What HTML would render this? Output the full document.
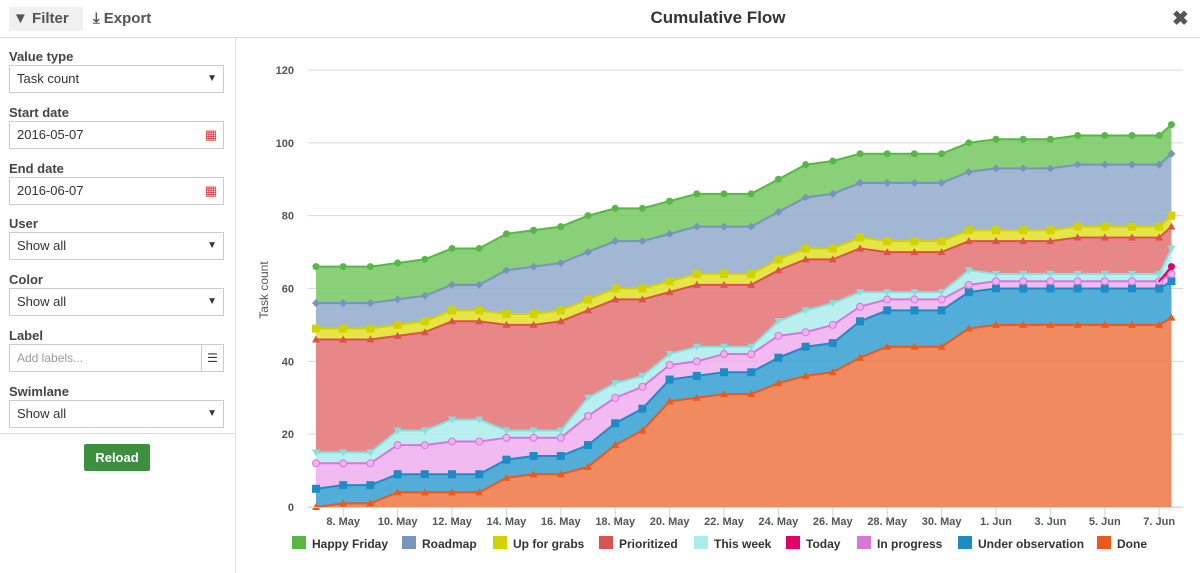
<!DOCTYPE html>
<html><head><meta charset="utf-8">
<style>
body{margin:0;width:1200px;height:573px;overflow:hidden;background:#fff;font-family:"Liberation Sans",sans-serif;color:#333;position:relative}
.top{position:absolute;left:0;top:0;width:1200px;height:37px;border-bottom:1px solid #ddd}
.tb{position:absolute;top:7px;height:24px;line-height:24px;font-size:15px;font-weight:bold;color:#555}
.side{position:absolute;left:0;top:38px;width:235px;height:535px;border-right:1px solid #ddd}
.lbl{position:absolute;left:9px;font-size:13px;font-weight:bold;color:#444}
.inp{position:absolute;left:9px;height:26px;border:1px solid #ccc;font-size:13px;line-height:26px;padding-left:7px;box-sizing:content-box;width:206px}
.arr{position:absolute;right:6px;top:0;font-size:10px}
</style></head><body>
<div class="top">
 <div class="tb" style="left:9px;width:70px;background:#f0f0f0;padding-left:4px"><span style="font-size:15px">&#9660;</span> Filter</div>
 <div class="tb" style="left:93px">&#10515; Export</div>
 <div style="position:absolute;left:0;width:1436px;top:8px;text-align:center;font-size:17px;font-weight:bold;color:#333">Cumulative Flow</div>
 <div style="position:absolute;left:1172px;top:6px;font-size:20px;font-weight:bold;color:#555">&#10006;</div>
</div>
<div class="side">
 <div class="lbl" style="top:11px">Value type</div>
 <div class="inp" style="top:27px">Task count<span class="arr">&#9660;</span></div>
 <div class="lbl" style="top:67px">Start date</div>
 <div class="inp" style="top:83px">2016-05-07<span class="arr" style="color:#d33;font-size:13px">&#9638;</span></div>
 <div class="lbl" style="top:123px">End date</div>
 <div class="inp" style="top:139px">2016-06-07<span class="arr" style="color:#d33;font-size:13px">&#9638;</span></div>
 <div class="lbl" style="top:178px">User</div>
 <div class="inp" style="top:194px">Show all<span class="arr">&#9660;</span></div>
 <div class="lbl" style="top:234px">Color</div>
 <div class="inp" style="top:250px">Show all<span class="arr">&#9660;</span></div>
 <div class="lbl" style="top:290px">Label</div>
 <div class="inp" style="top:306px;color:#999;font-size:12px">Add labels...<span style="position:absolute;right:0;top:0;width:21px;height:26px;border-left:1px solid #ccc;color:#333;text-align:center">&#9776;</span></div>
 <div class="lbl" style="top:346px">Swimlane</div>
 <div class="inp" style="top:362px">Show all<span class="arr">&#9660;</span></div>
 <div style="position:absolute;left:0;top:395px;width:235px;border-top:1px solid #ddd"></div>
 <div style="position:absolute;left:84px;top:406px;width:66px;height:27px;background:#3d8f40;color:#fff;font-size:13px;font-weight:bold;text-align:center;line-height:27px;border-radius:2px">Reload</div>
</div>
<svg id="chart" style="position:absolute;left:0;top:0" width="1200" height="573"></svg>
<script>
const days=[0,1,2,3,4,5,6,7,8,9,10,11,12,13,14,15,16,17,18,19,20,21,22,23,24,25,26,27,28,29,30,31,31.45];
const tickDays=[1,3,5,7,9,11,13,15,17,19,21,23,25,27,29,31];
const tickLabels=["8. May","10. May","12. May","14. May","16. May","18. May","20. May","22. May","24. May","26. May","28. May","30. May","1. Jun","3. Jun","5. Jun","7. Jun"];
const yTicks=[0,20,40,60,80,100,120];
const seriesNames=["Done","Under observation","In progress","Today","This week","Prioritized","Up for grabs","Roadmap","Happy Friday"];
const done=[0,1,1,4,4,4,4,8,9,9,11,17,21,29,30,31,31,34,36,37,41,44,44,44,49,50,50,50,50,50,50,50,52];
const underObservation=[5,5,5,5,5,5,5,5,5,5,6,6,6,6,6,6,6,7,8,8,10,10,10,10,10,10,10,10,10,10,10,10,10];
const inProgress=[7,6,6,8,8,9,9,6,5,5,8,7,6,4,4,5,5,6,4,5,4,3,3,3,2,2,2,2,2,2,2,2,2];
const today=[0,0,0,0,0,0,0,0,0,0,0,0,0,0,0,0,0,0,0,0,0,0,0,0,0,0,0,0,0,0,0,0,2];
const thisWeek=[3,3,3,4,4,6,6,2,2,2,5,4,3,3,4,2,2,4,6,6,4,2,2,2,4,2,2,2,2,2,2,2,5];
const prioritized=[31,31,31,26,27,27,27,29,29,30,24,23,21,17,17,17,17,14,14,12,12,11,11,11,8,9,9,9,10,10,10,10,6];
const upForGrabs=[3,3,3,3,3,3,3,3,3,3,3,3,3,3,3,3,3,3,3,3,3,3,3,3,3,3,3,3,3,3,3,3,3];
const roadmap=[7,7,7,7,7,7,7,12,13,13,13,13,13,13,13,13,13,13,14,15,15,16,16,16,16,17,17,17,17,17,17,17,17];
const happyFriday=[10,10,10,10,10,10,10,10,10,10,10,9,9,9,9,9,9,9,9,9,8,8,8,8,8,8,8,8,8,8,8,8,8];
const allSeries=[done,underObservation,inProgress,today,thisWeek,prioritized,upForGrabs,roadmap,happyFriday];
const fills=["#ef7d4e","#3fa4d4","#f0b2ee","#ee0a78","#b2eded","#e57a7a","#e2e232","#97afcf","#7ccb6a"];
const lines=["#e85a1e","#1d8cc4","#d877d8","#e0006a","#88dddd","#d9534f","#d2d200","#7894bb","#58b744"];
const markers=["tri","sq","circ","circ","tridown","tri","sq","diam","circ"];
const legendX=[1097,958,857,786,694,599,493,402,292];
const NS="http://www.w3.org/2000/svg";
const svg=document.getElementById('chart');
function X(d){return 316+d*27.2;}
function Y(v){return 507-v*(437/120);}
function mk(t,a){const e=document.createElementNS(NS,t);for(const k in a)e.setAttribute(k,a[k]);svg.appendChild(e);return e;}
yTicks.forEach(v=>{
 const g=mk('line',{x1:308,x2:1183,y1:Y(v),y2:Y(v),stroke:v===0?'#ccd6eb':'#d8d8d8','stroke-width':1});
 
 
 const t=mk('text',{x:294,y:Y(v)+4,'text-anchor':'end','font-size':11,'font-weight':'bold',fill:'#555'});
 t.textContent=v;
 
 
});
const yt=mk('text',{x:268,y:290,'text-anchor':'middle','font-size':12,fill:'#555',transform:'rotate(-90 268 290)'});
yt.textContent='Task count';


let base=days.map(()=>0);
const tops=[];
allSeries.forEach(s=>{const top=s.map((v,i)=>base[i]+v);tops.push({lo:base,hi:top});base=top;});
tops.forEach((t,si)=>{
 let d='M'+days.map((x,i)=>X(x)+','+Y(t.hi[i])).join('L');
 for(let i=days.length-1;i>=0;i--)d+='L'+X(days[i])+','+Y(t.lo[i]);
 const a=mk('path',{d:d+'Z',fill:fills[si],'fill-opacity':0.9,stroke:'none'});
 
 
});
tops.forEach((t,si)=>{
 const s=allSeries[si];
 const isToday=(si===3);
 for(let i=0;i<days.length-1;i++){
  if(isToday && s[i]===0 && s[i+1]===0) continue;
  const l=mk('line',{x1:X(days[i]),y1:Y(t.hi[i]),x2:X(days[i+1]),y2:Y(t.hi[i+1]),stroke:lines[si],'stroke-width':2,'stroke-linecap':'round'});
  
  
 }
 days.forEach((x,i)=>{
  if(isToday && s[i]===0) return;
  const cx=X(x),cy=Y(t.hi[i]);let m;const c=lines[si];
  if(markers[si]==='circ')m=mk('circle',{cx:cx,cy:cy,r:3.5,fill:si===2?'#f0b2ee':c,stroke:si===2?c:'none','stroke-width':1});
  else if(markers[si]==='sq')m=mk('rect',{x:cx-4,y:cy-4,width:8,height:8,fill:c});
  else if(markers[si]==='tri')m=mk('path',{d:`M${cx},${cy-4}L${cx+4},${cy+3}L${cx-4},${cy+3}Z`,fill:c});
  else if(markers[si]==='tridown')m=mk('path',{d:`M${cx-4},${cy-3}L${cx+4},${cy-3}L${cx},${cy+4}Z`,fill:c});
  else m=mk('path',{d:`M${cx},${cy-4}L${cx+4},${cy}L${cx},${cy+4}L${cx-4},${cy}Z`,fill:c});
  
  
 });
});
mk('line',{x1:308,x2:1183,y1:507.5,y2:507.5,stroke:'#ccd6eb'});
tickDays.forEach((d,i)=>{
 mk('line',{x1:X(d),x2:X(d),y1:507,y2:517,stroke:'#ccd6eb'});
 const t=mk('text',{x:X(d),y:525,'text-anchor':'middle','font-size':11,'font-weight':'bold',fill:'#555'});
 t.textContent=tickLabels[i];
 
 
});
seriesNames.forEach((n,i)=>{
 const r=mk('rect',{x:legendX[i],y:536,width:14,height:13,fill:fills[i]==='#b2eded'?'#a8ecec':lines[i]});
 
 
 const t=mk('text',{x:legendX[i]+20,y:548,'font-size':12,'font-weight':'bold',fill:'#333'});
 t.textContent=n;
 
 
});
</script>
</body></html>
